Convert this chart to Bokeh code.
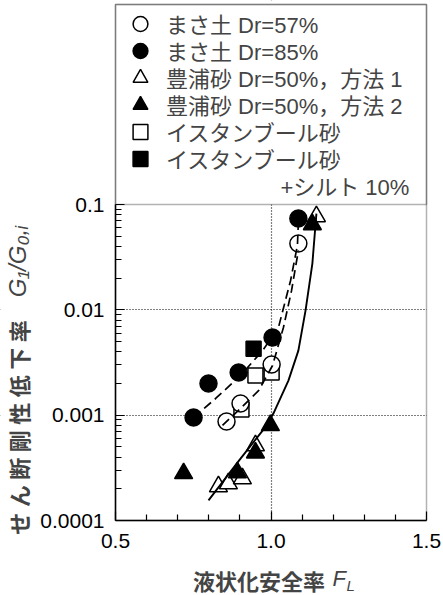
from math import pi
from bokeh.plotting import figure
from bokeh.models import FixedTicker, Legend, LegendItem, BoxAnnotation, Label
from bokeh.embed import file_html
from bokeh.resources import INLINE

# ---- data ----
masa57_x = [0.857, 0.902, 1.002, 1.088]
masa57_y = [0.00087, 0.00129, 0.00303, 0.0426]
masa85_x = [0.751, 0.799, 0.896, 1.005, 1.088]
masa85_y = [0.00095, 0.0020, 0.00254, 0.00546, 0.0736]
toyo1_x = [0.831, 0.863, 0.908, 0.950, 1.146]
toyo1_y = [0.00021, 0.000224, 0.00025, 0.000514, 0.0769]
toyo2_x = [0.719, 0.892, 0.950, 0.998, 1.133]
toyo2_y = [0.00028, 0.000285, 0.00044, 0.0008, 0.0646]
ist_x = [0.905, 0.950, 1.002]
ist_y = [0.00113, 0.00238, 0.00254]
istsilt_x = [0.944]
istsilt_y = [0.00428]

# trend curves
fit85_x = [0.751, 0.822, 0.902, 0.973, 1.024, 1.063, 1.085, 1.088]
fit85_y = [0.00095, 0.00144, 0.00238, 0.0041, 0.0068, 0.019, 0.041, 0.0674]
fit57_x = [0.844, 0.902, 0.960, 1.005, 1.040, 1.066, 1.088]
fit57_y = [0.0008, 0.00116, 0.00171, 0.00296, 0.0068, 0.0152, 0.0366]
fitT_x = [0.799, 0.902, 0.973, 1.008, 1.056, 1.088, 1.111, 1.133, 1.146]
fitT_y = [0.000155, 0.000387, 0.000714, 0.00104, 0.00213, 0.0041, 0.00984, 0.0275, 0.082]

labels = ["まさ土 Dr=57%", "まさ土 Dr=85%", "豊浦砂 Dr=50%，方法 1",
          "豊浦砂 Dr=50%，方法 2", "イスタンブール砂", "イスタンブール砂",
          "\u3000" * 5 + "\u2009" + "+シルト 10%"]
x_ticks = [0.5, 1.0, 1.5]
x_tick_labels = ["0.5", "1.0", "1.5"]
y_ticks = [0.0001, 0.001, 0.01, 0.1]
y_tick_labels = ["0.0001", "0.001", "0.01", "0.1"]
X_MIN, X_MAX = 0.5, 1.5
Y_MIN, Y_MAX = 0.0001, 0.1

LAT = "'Liberation Sans', 'Noto Sans CJK JP'"
JP = "'Noto Sans CJK JP'"

# page geometry: frame 0.5..1.5 -> px 115..426, 1e-4..0.1 -> px 520..204
W, H = 443, 595
PX_L, PX_R, PX_B, PX_T = 115, 426, 520, 204
ux = (PX_R - PX_L) / (X_MAX - X_MIN)
uy = (PX_B - PX_T) / 3.0
x_start = X_MIN - PX_L / ux
x_end = X_MAX + (W - PX_R) / ux
y_start = 10 ** (-4 - (H - PX_B) / uy)
y_end = 10 ** (-1 + PX_T / uy)
box_top = 10 ** (-1 + (PX_T - 4) / uy)

p = figure(width=W, height=H, x_range=(x_start, x_end), y_range=(y_start, y_end),
           y_axis_type="log", output_backend="svg", toolbar_location=None,
           min_border=0)
p.background_fill_color = "white"
p.border_fill_color = "white"
p.outline_line_color = None

# axes placed at the data frame edges
p.xaxis.fixed_location = Y_MIN
p.yaxis.fixed_location = X_MIN
p.xaxis.bounds = (X_MIN, X_MAX)
p.yaxis.bounds = (Y_MIN, Y_MAX)
p.xaxis.ticker = FixedTicker(ticks=x_ticks, minor_ticks=[0.6, 0.7, 0.8, 0.9, 1.1, 1.2, 1.3, 1.4])
p.xaxis.major_label_overrides = dict(zip(x_ticks, x_tick_labels))
p.yaxis.ticker = FixedTicker(ticks=y_ticks,
                             minor_ticks=[k * 10 ** e for e in (-4, -3, -2) for k in range(2, 10)])
p.yaxis.major_label_overrides = dict(zip(y_ticks, y_tick_labels))
for ax in (p.xaxis[0], p.yaxis[0]):
    ax.major_tick_in = 9
    ax.major_tick_out = 0
    ax.minor_tick_in = 6
    ax.minor_tick_out = 0
    ax.axis_line_width = 1.5
    ax.major_tick_line_width = 1.2
    ax.minor_tick_line_width = 1.2
    ax.major_label_text_font = LAT
    ax.major_label_text_font_size = "21px"
    ax.major_label_text_color = "black"
    ax.axis_label = None
p.xaxis.major_label_standoff = 13
p.yaxis.major_label_standoff = 11

p.xgrid.ticker = FixedTicker(ticks=[1.0])
p.ygrid.ticker = FixedTicker(ticks=[0.001, 0.01])
for g in (p.xgrid[0], p.ygrid[0]):
    g.grid_line_color = "black"
    g.grid_line_dash = "1 2"
    g.grid_line_width = 1.2
    g.level = "image"

# white covers outside the data frame (hide grid lines there)
for kw in (dict(right=X_MIN), dict(left=X_MAX), dict(top=Y_MIN),
           dict(left=X_MIN, right=X_MAX, bottom=Y_MAX)):
    p.add_layout(BoxAnnotation(fill_color="white", fill_alpha=1.0, line_alpha=0,
                               level="underlay", **kw))

# markers
ms = dict(line_color="black", line_width=1.5)
r_ist = p.scatter(ist_x, ist_y, marker="square", size=15, fill_color="white", **ms)
r_istsilt = p.scatter(istsilt_x, istsilt_y, marker="square", size=15, fill_color="black", **ms)
r_t1 = p.scatter(toyo1_x, toyo1_y, marker="triangle", size=18, fill_color="white", **ms)
r_t2 = p.scatter(toyo2_x, toyo2_y, marker="triangle", size=18, fill_color="black", **ms)
r_m57 = p.scatter(masa57_x, masa57_y, marker="circle", size=17, fill_color="white", **ms)
r_m85 = p.scatter(masa85_x, masa85_y, marker="circle", size=17, fill_color="black", **ms)
r_blank = p.scatter([], [], marker="circle", size=1, fill_alpha=0, line_alpha=0)

# trend lines
p.line(fit85_x, fit85_y, line_color="black", line_width=1.7, line_dash="9 5")
p.line(fit57_x, fit57_y, line_color="black", line_width=1.7, line_dash="9 5")
p.line(fitT_x, fitT_y, line_color="black", line_width=1.9)

# frame outline and the legend divider at 0.1
p.add_layout(BoxAnnotation(left=X_MIN, right=X_MAX, bottom=Y_MIN, top=box_top,
                           fill_alpha=0, line_color="black", line_width=1.5))
p.add_layout(BoxAnnotation(left=X_MIN, right=X_MAX, bottom=Y_MAX, top=box_top,
                           fill_alpha=0, line_color="black", line_width=1.5))

# legend: one entry per row, rows 27 px apart starting 23 px from the top
GH = 37
for i, (lab, r) in enumerate(zip(labels, [r_m57, r_m85, r_t1, r_t2, r_ist, r_istsilt, r_blank])):
    row_c = 23 + 27 * i
    leg = Legend(items=[LegendItem(label=lab, renderers=[r])],
                 location=(PX_L, H - row_c - GH / 2), margin=0, padding=0,
                 glyph_width=50, glyph_height=GH, spacing=0, label_standoff=1,
                 label_height=20,
                 label_text_font=LAT, label_text_font_size="22px",
                 label_text_baseline="middle",
                 border_line_alpha=0, background_fill_alpha=0)
    p.add_layout(leg)

# axis titles (canvas pixel positions, y from top)
sp = "\u2005"
p.add_layout(Label(x=17, y=427, x_units="canvas", y_units="canvas",
                   text=sp.join("せん断剛性低下率"),
                   angle=pi / 2, text_align="center", text_baseline="middle",
                   text_font=JP, text_font_style="bold", text_font_size="22px"))
p.add_layout(Label(x=17, y=261, x_units="canvas", y_units="canvas",
                   text="G\u2081/G\u2080,\u1d62",
                   angle=pi / 2, text_align="center", text_baseline="middle",
                   text_font="'Liberation Sans', 'DejaVu Sans'", text_font_style="italic",
                   text_font_size="24px"))
p.add_layout(Label(x=258.5, y=579, x_units="canvas", y_units="canvas",
                   text="液状化安全率",
                   text_align="center", text_baseline="middle",
                   text_font=JP, text_font_style="bold", text_font_size="22px"))
p.add_layout(Label(x=332, y=578, x_units="canvas", y_units="canvas", text="F",
                   text_align="left", text_baseline="middle",
                   text_font="'Liberation Sans'", text_font_style="italic",
                   text_font_size="22px"))
p.add_layout(Label(x=346, y=585, x_units="canvas", y_units="canvas", text="L",
                   text_align="left", text_baseline="middle",
                   text_font="'Liberation Sans'", text_font_style="italic",
                   text_font_size="15px"))

open("out.html", "w").write(file_html(p, INLINE))
